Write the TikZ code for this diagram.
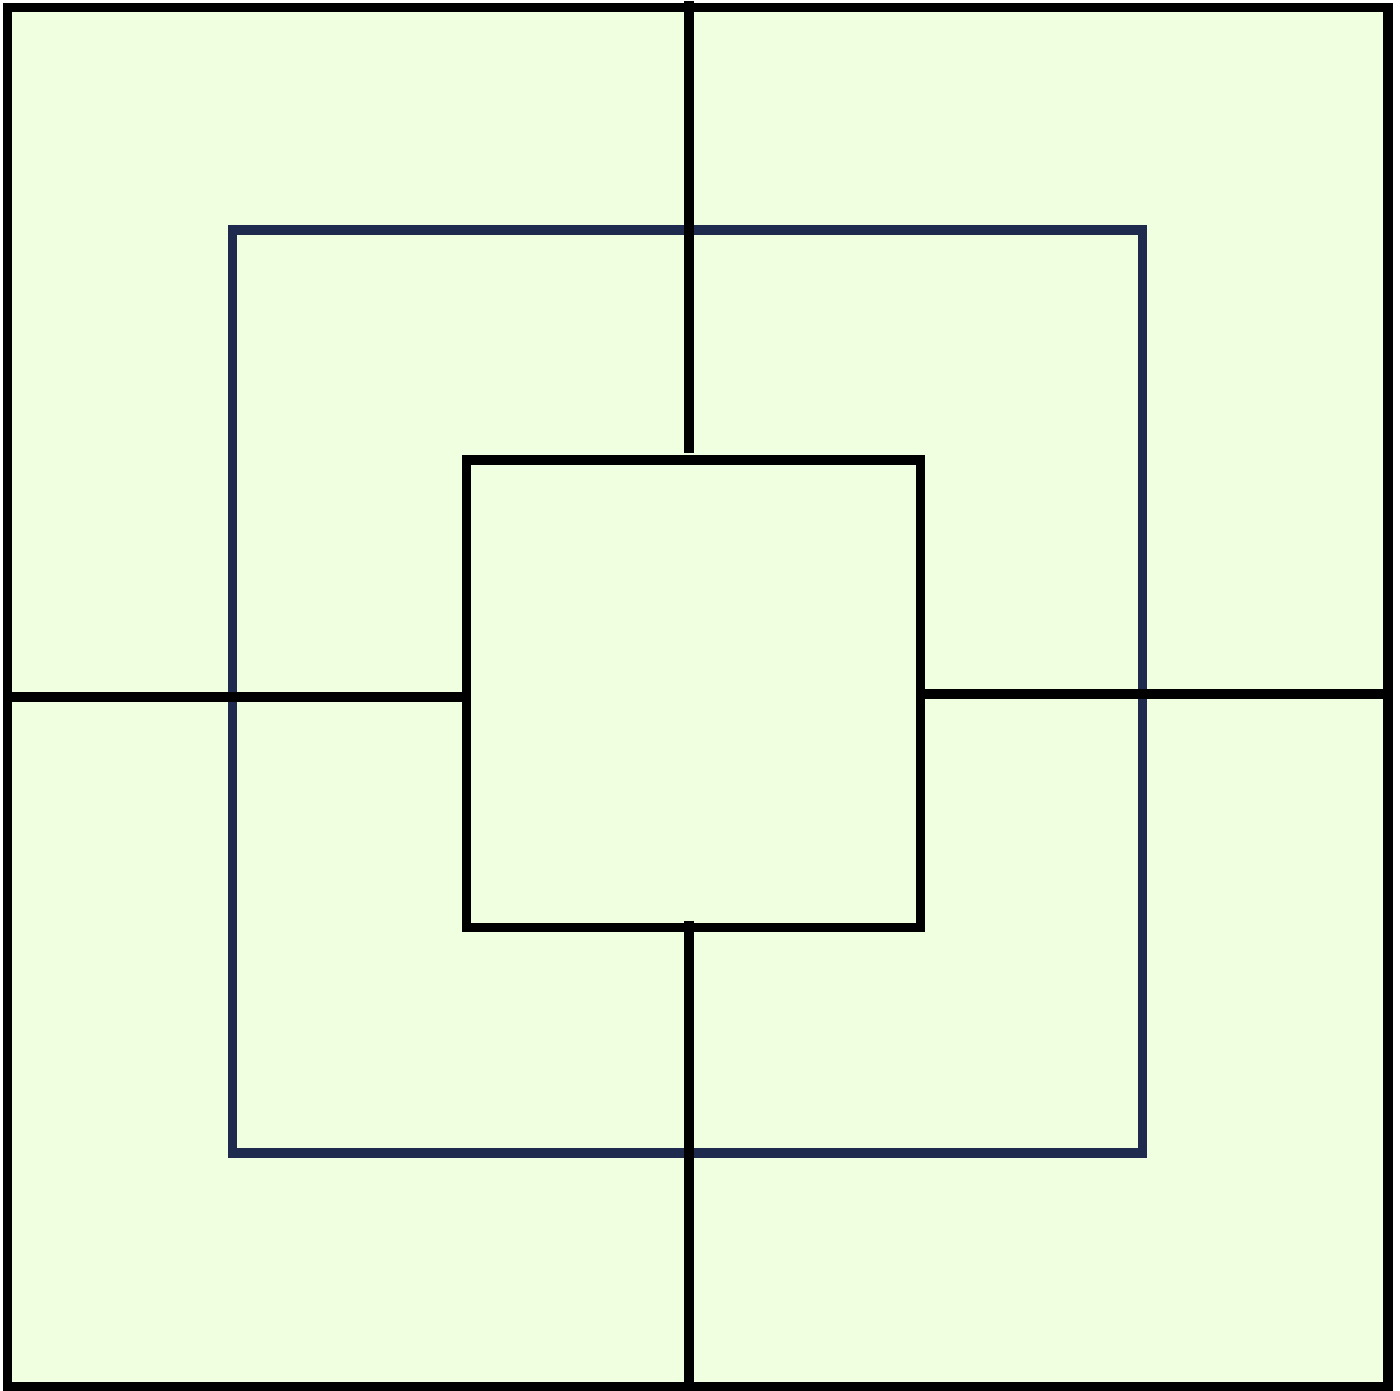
\documentclass[tikz,border=0pt]{standalone}
\begin{document}
\begin{tikzpicture}[x=0.5pt,y=-0.5pt,
  board/.style={line width=4.75pt,draw=black,line cap=butt,line join=miter},
  midsq/.style={line width=4.75pt,draw=navy,line join=miter},
  spoke/.style={line width=4.75pt,draw=black,line cap=butt}]
\definecolor{boardfill}{RGB}{240,255,224}
\definecolor{navy}{RGB}{30,42,78}
\useasboundingbox (0,0) rectangle (1400,1390);
\fill[white] (0,0) rectangle (1400,1390);
% outer square
\filldraw[board,fill=boardfill] (7.5,7.5) rectangle (1388,1387);
% middle square
\draw[midsq] (232.7,230) rectangle (1142.7,1153);
% inner square
\draw[board] (466.7,460) rectangle (920.3,927.7);
% spokes
\draw[spoke] (689,1) -- (689,453);
\draw[spoke] (689,920.7) -- (689,1382.7);
\draw[spoke] (12,697) -- (461.7,697);
\draw[spoke] (925,694) -- (1383.3,694);
\end{tikzpicture}
\end{document}
